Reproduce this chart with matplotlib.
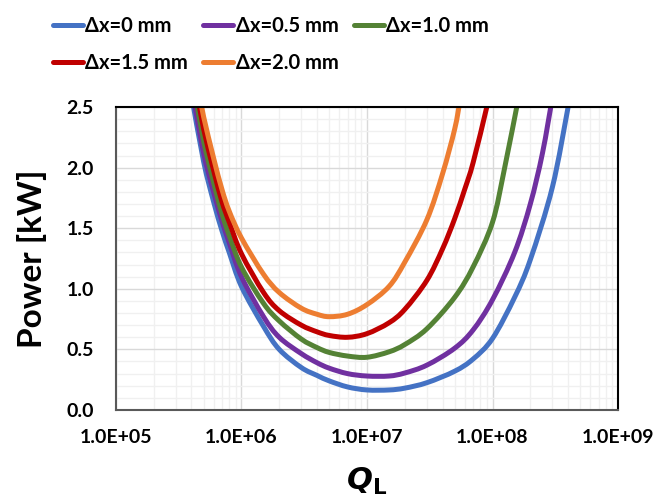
import matplotlib
matplotlib.use("Agg")
import numpy as np
import matplotlib.pyplot as plt
from matplotlib.path import Path
from matplotlib.patches import PathPatch
from matplotlib.lines import Line2D
from matplotlib.ticker import FixedLocator, LogLocator, MultipleLocator, NullFormatter

plt.rcParams['font.family'] = ['Lato', 'DejaVu Sans']
plt.rcParams['font.weight'] = 'bold'

labels = ["Δx=0 mm", "Δx=0.5 mm", "Δx=1.0 mm", "Δx=1.5 mm", "Δx=2.0 mm"]
colors = ["#4472C4", "#7030A0", "#548235", "#C00000", "#ED7D31"]

q_0 = [4.0e5, 5e5, 6e5, 7e5, 8e5, 1e6, 1.5e6, 2e6, 3e6, 4e6, 5e6, 7e6, 1e7, 1.5e7,
       2e7, 3e7, 5e7, 7e7, 1e8, 1.5e8, 2e8, 3e8, 4e8, 4.2e8]
p_0 = [2.60, 2.05, 1.72, 1.48, 1.30, 1.02, 0.69, 0.50, 0.35, 0.285, 0.24, 0.19, 0.165, 0.165,
       0.18, 0.225, 0.32, 0.42, 0.59, 0.93, 1.24, 1.84, 2.50, 2.62]

q_05 = [4.2e5, 5e5, 6e5, 7e5, 8e5, 1e6, 1.5e6, 2e6, 3e6, 4e6, 5e6, 7e6, 1e7, 1.5e7,
        2e7, 3e7, 5e7, 7e7, 1e8, 1.5e8, 2e8, 2.5e8, 3e8]
p_05 = [2.55, 2.12, 1.80, 1.56, 1.38, 1.10, 0.77, 0.60, 0.465, 0.39, 0.345, 0.30, 0.28, 0.28,
        0.305, 0.37, 0.51, 0.66, 0.91, 1.30, 1.70, 2.12, 2.58]

q_10 = [4.3e5, 5e5, 6e5, 7e5, 8e5, 1e6, 1.5e6, 2e6, 3e6, 4e6, 5e6, 7e6, 1e7, 1.5e7,
        2e7, 3e7, 5e7, 7e7, 1e8, 1.25e8, 1.6e8]
p_10 = [2.60, 2.22, 1.88, 1.62, 1.44, 1.18, 0.88, 0.735, 0.585, 0.515, 0.475, 0.445, 0.435, 0.48,
        0.54, 0.67, 0.93, 1.18, 1.55, 2.00, 2.56]

q_15 = [4.5e5, 5e5, 6e5, 7e5, 8e5, 1e6, 1.5e6, 2e6, 3e6, 4e6, 5e6, 7e6, 1e7, 1.5e7,
        2e7, 3e7, 4e7, 5e7, 6e7, 7e7, 9e7, 9.3e7]
p_15 = [2.58, 2.32, 1.98, 1.72, 1.55, 1.29, 0.97, 0.82, 0.70, 0.645, 0.615, 0.60, 0.63, 0.72,
        0.83, 1.07, 1.33, 1.58, 1.82, 2.04, 2.50, 2.58]

q_20 = [4.7e5, 5e5, 6e5, 7e5, 8e5, 1e6, 1.5e6, 2e6, 3e6, 4e6, 5e6, 7e6, 1e7, 1.5e7,
        2e7, 3e7, 4e7, 5e7, 5.5e7]
p_20 = [2.57, 2.42, 2.08, 1.82, 1.64, 1.42, 1.12, 0.97, 0.84, 0.79, 0.77, 0.79, 0.87, 1.02,
        1.22, 1.57, 1.95, 2.32, 2.55]

series = [(q_0, p_0), (q_05, p_05), (q_10, p_10), (q_15, p_15), (q_20, p_20)]


def smooth_path(q, p):
    # Excel-like smoothed line: Catmull-Rom Bezier through the points, in log-x space
    pts = np.column_stack([np.log10(q), p])
    n = len(pts)
    verts = [pts[0]]
    codes = [Path.MOVETO]
    for i in range(n - 1):
        p0 = pts[max(i - 1, 0)]
        p1 = pts[i]
        p2 = pts[i + 1]
        p3 = pts[min(i + 2, n - 1)]
        verts += [p1 + (p2 - p0) / 6, p2 - (p3 - p1) / 6, p2]
        codes += [Path.CURVE4] * 3
    verts = np.array(verts)
    verts[:, 0] = 10 ** verts[:, 0]
    return Path(verts, codes)


fig = plt.figure(figsize=(6.66, 5.03), dpi=100)
ax = fig.add_axes([0.174, 0.185, 0.754, 0.602])

handles = []
for (q, p), lab, c in zip(series, labels, colors):
    ax.add_patch(PathPatch(smooth_path(q, p), fill=False, edgecolor=c, lw=3.6,
                           capstyle='round', joinstyle='round'))
    handles.append(Line2D([], [], color=c, lw=3.6, solid_capstyle='round'))

ax.set_xscale('log')
ax.set_xlim(1e5, 1e9)
ax.set_ylim(0, 2.5)
ax.xaxis.set_major_locator(FixedLocator([1e5, 1e6, 1e7, 1e8, 1e9]))
ax.xaxis.set_minor_locator(LogLocator(base=10, subs=range(2, 10)))
ax.xaxis.set_minor_formatter(NullFormatter())
ax.set_xticklabels(["1.0E+05", "1.0E+06", "1.0E+07", "1.0E+08", "1.0E+09"])
ax.yaxis.set_major_locator(MultipleLocator(0.5))
ax.yaxis.set_minor_locator(MultipleLocator(0.1))
ax.yaxis.set_major_formatter(plt.FormatStrFormatter('%.1f'))

ax.grid(which='major', color='#D9D9D9', lw=1.0)
ax.grid(which='minor', color='#F0F0F0', lw=1.0)
ax.set_axisbelow(True)
ax.tick_params(which='both', length=0, labelsize=14)
ax.tick_params(axis='x', pad=14)
ax.tick_params(axis='y', pad=16)
for s in ax.spines.values():
    s.set_color('black')
    s.set_linewidth(1.5)
ax.spines['left'].set_color('#595959')
ax.spines['bottom'].set_color('#595959')

ax.set_ylabel("Power [kW]", fontsize=24, fontweight='bold', labelpad=14)
ax.set_xlabel(r"$\boldsymbol{Q}_\mathsf{L}$", fontsize=22, labelpad=14)

# matplotlib fills legend columns first; reorder so rows read 0, 0.5, 1.0 / 1.5, 2.0
order = [0, 3, 1, 4, 2]
fig.legend([handles[i] for i in order], [labels[i] for i in order],
           loc='upper left', bbox_to_anchor=(0.052, 1.005), ncol=3,
           frameon=False, fontsize=14.5, handlelength=1.5, handletextpad=0.12,
           columnspacing=0.75, labelspacing=0.85)

fig.savefig("out.png", dpi=100)
